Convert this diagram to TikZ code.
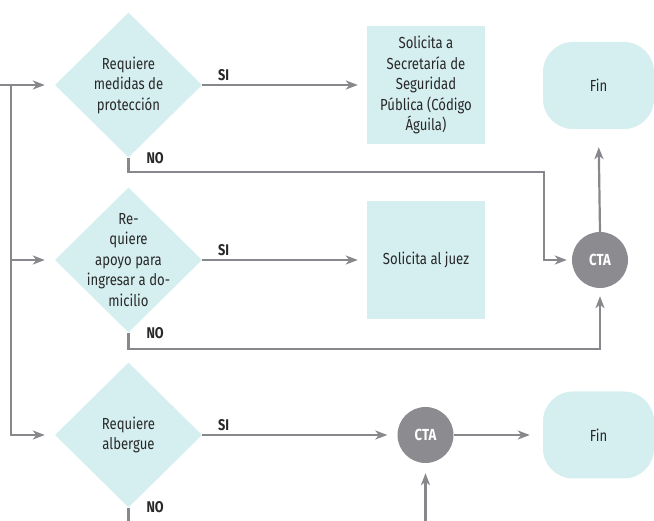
\documentclass[tikz,border=0pt]{standalone}
\usepackage{fontspec}
\setmainfont[FakeStretch=0.82]{Fira Sans}
\usetikzlibrary{positioning,shapes.geometric,arrows.meta}

\definecolor{boxfill}{RGB}{213,238,240}
\definecolor{linegray}{RGB}{135,136,140}
\definecolor{ctagray}{RGB}{140,140,144}
\definecolor{txtgray}{RGB}{40,40,40}

\tikzset{
	decision/.style={diamond, fill=boxfill, minimum width=147pt, minimum height=145pt, inner sep=0pt},
	decisiontext/.style={align=center, text=txtgray},
	action/.style={rectangle, fill=boxfill, minimum width=118pt, minimum height=118pt, align=center, text=txtgray},
	finbox/.style={rectangle, rounded corners=30pt, fill=boxfill, minimum width=111pt, minimum height=87pt, text=txtgray},
	cta/.style={circle, fill=ctagray, minimum size=56pt, inner sep=0pt, text=white, font=\fontsize{16}{20}\selectfont\bfseries},
	answer/.style={text=txtgray, font=\fontsize{15.5}{20}\selectfont\bfseries},
	link/.style={draw=linegray, line width=2.2pt},
	flow/.style={link, -{Stealth[length=12pt,width=9pt,inset=3.5pt]}}
}

\begin{document}
\begin{tikzpicture}[x=1pt, y=1pt, font=\fontsize{16}{20.5}\selectfont]
	\useasboundingbox (0,0) rectangle (654,521);

	% Decisions
	\node [decision] (d1) at (128.5,436) {};
	\node [decisiontext] (d1txt) at (d1) {Requiere\\medidas de\\protección};

	\node [decision] (d2) at (128.5,261) {};
	\node [decisiontext] (d2txt) at (d2) {Re-\\quiere\\apoyo para\\ingresar a do-\\micilio};

	\node [decision] (d3) at (128.5,86) {};
	\node [decisiontext] (d3txt) at (d3) {Requiere\\albergue};

	% Actions
	\node [action] (box1) at (426,436) {Solicita a\\Secretaría de\\Seguridad\\Pública (Código\\Águila)};
	\node [action] (box2) at (426,261) {Solicita al juez};

	% CTA and Fin
	\node [cta] (cta1) at (600,261) {CTA};
	\node [finbox] (fin1) at (598.5,435.5) {Fin};
	\node [cta] (cta2) at (425.5,86) {CTA};
	\node [finbox] (fin2) at (598.5,86) {Fin};

	% Free ends
	\coordinate (in) at (0,436);
	\coordinate (split) at (11,436);
	\coordinate (no1turn) at (544,349);
	\coordinate (out3) at (128.5,0);
	\coordinate (in2) at (425.5,0);

	% Arrows
	\draw[flow, shorten >=10pt] (in) -- (d1.west);
	\draw[flow, shorten >=10pt] (split) |- (d3.west);
	\draw[flow, shorten >=10pt] (split |- d2.west) -- (d2.west);

	\draw[flow, shorten >=9pt] (d1.east) -- (box1.west)
		node[answer, pos=0.13, above] (si1) {SI};
	\draw[flow, shorten >=9pt] (d2.east) -- (box2.west)
		node[answer, pos=0.13, above] (si2) {SI};
	\draw[flow, shorten >=10pt] (d3.east) -- (cta2.west)
		node[answer, pos=0.11, above] (si3) {SI};

	\draw[flow, shorten >=5pt] (d1.south) |- (no1turn) |- (cta1.west);
	\draw[flow, shorten >=8pt] (d2.south) -- ++(0,-16) -| (cta1.south);
	\draw[link] (d3.south) -- (out3);

	\node[answer, anchor=west] (no1) at (143,363) {NO};
	\node[answer, anchor=west] (no2) at (143,188) {NO};
	\node[answer, anchor=west] (no3) at (143,14) {NO};

	\draw[flow, shorten >=18pt] (cta1.north) -- (fin1.south);
	\draw[flow, shorten >=13pt] (cta2.east) -- (fin2.west);
	\draw[flow, shorten >=10pt] (in2) -- (cta2.south);

\end{tikzpicture}
\end{document}
